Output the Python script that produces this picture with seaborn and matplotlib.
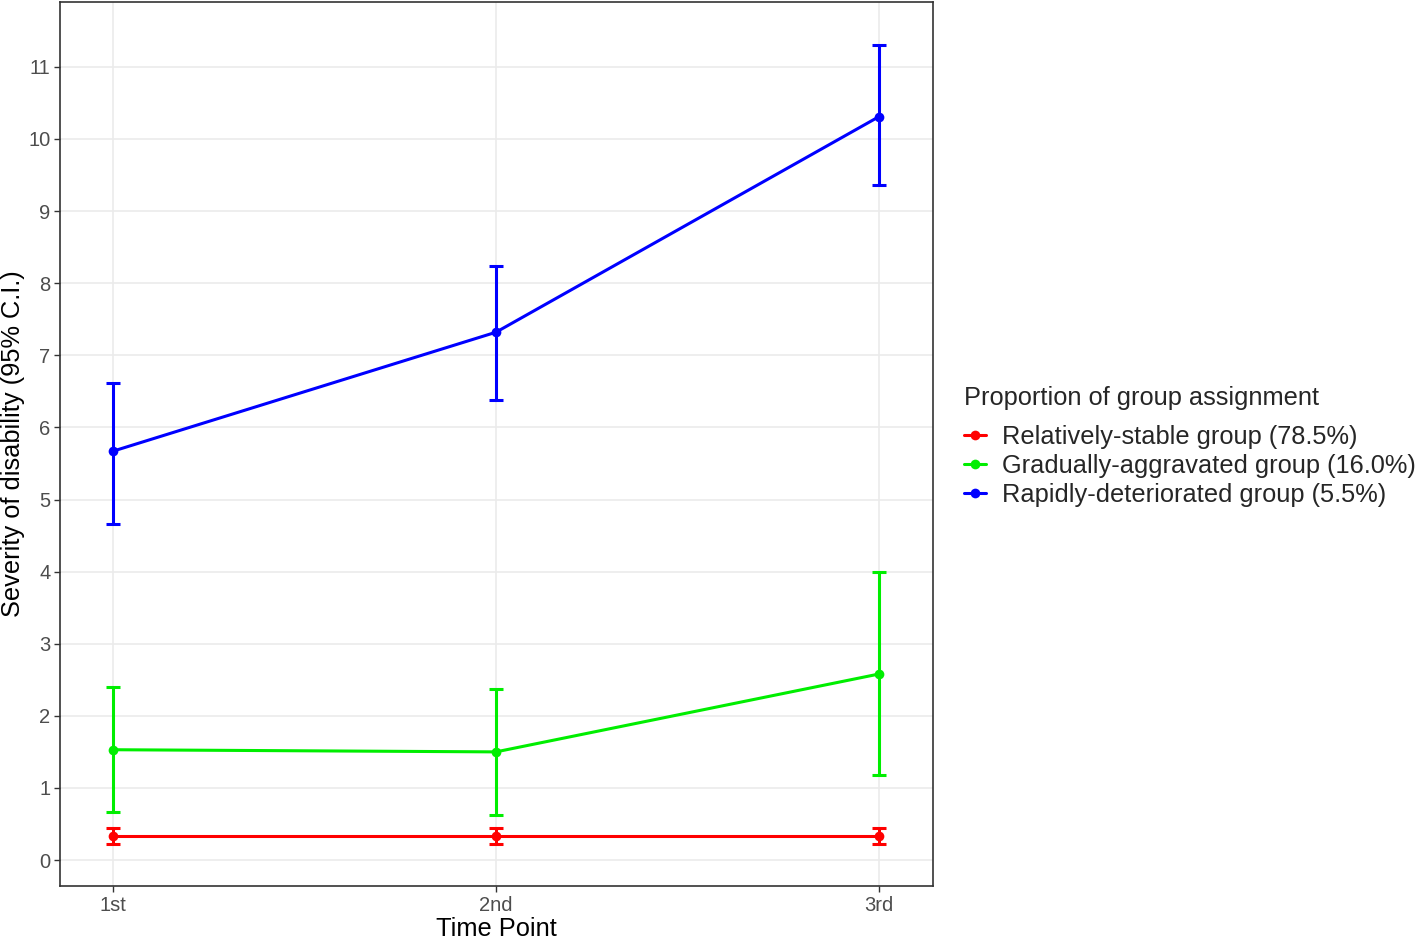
import matplotlib
matplotlib.use("Agg")
import matplotlib.pyplot as plt
import seaborn as sns
import pandas as pd
import numpy as np

time_labels = ["1st", "2nd", "3rd"]
groups = ["Relatively-stable group (78.5%)",
          "Gradually-aggravated group (16.0%)",
          "Rapidly-deteriorated group (5.5%)"]
colors = ["#FF0000", "#00EE00", "#0000FF"]

stable_mean = [0.33, 0.33, 0.33]
stable_low = [0.22, 0.22, 0.22]
stable_high = [0.44, 0.44, 0.44]

gradual_mean = [1.53, 1.50, 2.58]
gradual_low = [0.67, 0.62, 1.18]
gradual_high = [2.40, 2.37, 4.00]

rapid_mean = [5.67, 7.32, 10.31]
rapid_low = [4.66, 6.38, 9.36]
rapid_high = [6.62, 8.24, 11.31]

means = [stable_mean, gradual_mean, rapid_mean]
lows = [stable_low, gradual_low, rapid_low]
highs = [stable_high, gradual_high, rapid_high]

rows = []
for g, m, lo, hi in zip(groups, means, lows, highs):
    for i, t in enumerate(time_labels):
        rows.append({"time": i + 1, "label": t, "group": g,
                     "mean": m[i], "low": lo[i], "high": hi[i]})
df = pd.DataFrame(rows)

sns.set_theme(style="whitegrid")
plt.rcParams['font.family'] = ['Liberation Sans', 'DejaVu Sans']

fig = plt.figure(figsize=(14.18, 9.41), dpi=100)
ax = fig.add_axes([60/1418, 55/941, 873/1418, 884/941])

for g, c in zip(groups, colors):
    sub = df[df["group"] == g]
    ax.errorbar(sub["time"], sub["mean"],
                yerr=[sub["mean"] - sub["low"], sub["high"] - sub["mean"]],
                fmt="none", ecolor=c, elinewidth=2.2, capsize=5, capthick=2.2,
                zorder=3)

sns.lineplot(data=df, x="time", y="mean", hue="group", hue_order=groups,
             palette=colors, marker="o", markersize=7, markeredgewidth=0,
             linewidth=2.2, ax=ax, zorder=4)

ax.set_xlim(0.862, 3.141)
ax.set_ylim(-0.36, 11.9)
ax.set_xticks([1, 2, 3])
ax.set_xticklabels(time_labels)
ax.set_yticks(range(0, 12))
ax.grid(True, color="#EBEBEB", linewidth=1.2)
ax.set_facecolor("white")
for s in ax.spines.values():
    s.set_color("#333333")
    s.set_linewidth(1.2)
ax.tick_params(axis="both", colors="#4D4D4D", labelsize=14.5, length=4,
               width=1.0, direction="out", bottom=True, left=True, pad=3)
ax.tick_params(axis="both", color="#333333")
ax.set_xlabel("Time Point", fontsize=18.3, color="black", labelpad=2)
ax.set_ylabel("Severity of disability (95% C.I.)", fontsize=18.3, color="black")
ax.yaxis.set_label_coords(-0.0405, 0.5)

handles, labels = ax.get_legend_handles_labels()
ax.legend_.remove()
leg = fig.legend(handles, labels, title="Proportion of group assignment",
                 loc="upper left", bbox_to_anchor=(964/1418, 1 - 386/941),
                 frameon=False, fontsize=18.3, title_fontsize=18.3,
                 handlelength=0.85, handletextpad=0.65, labelspacing=0.19,
                 borderaxespad=0, borderpad=0)
leg._legend_box.align = "left"
leg._legend_box.sep = 11

fig.savefig("out.png", dpi=100)
